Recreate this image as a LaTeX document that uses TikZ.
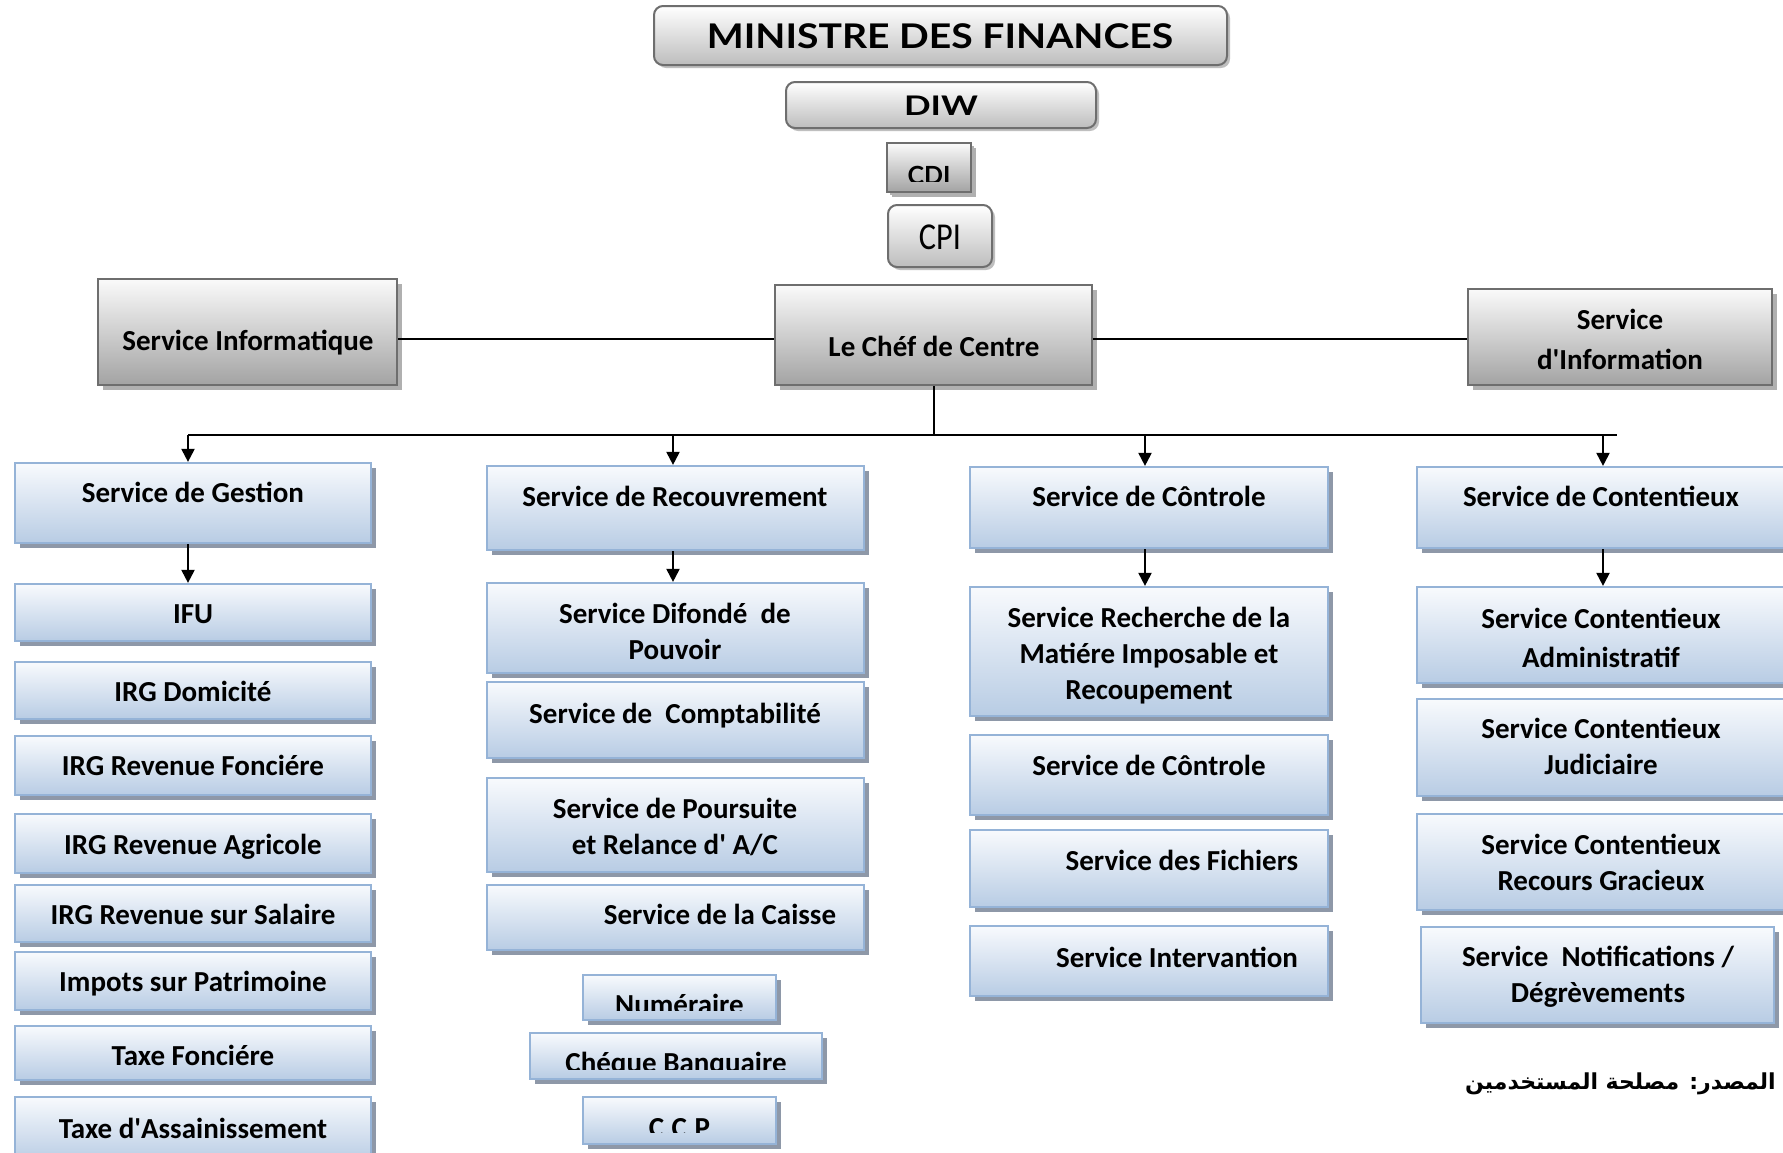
\documentclass[tikz,border=0pt]{standalone}
\usepackage{fontspec}
\setmainfont{Carlito}
\newfontfamily\titlefont{Lato}
\newfontfamily\arabicfont[Script=Arabic]{DejaVu Sans}
\TeXXeTstate=1
\usetikzlibrary{shadows,arrows.meta,calc}
\definecolor{bluebd}{HTML}{95B3D7}
\definecolor{bluetop}{HTML}{F8FAFD}
\definecolor{bluebot}{HTML}{B8CCE4}
\definecolor{bshadow}{HTML}{8E98A8}
\definecolor{graybd}{HTML}{6E6E6E}
\definecolor{graytop}{HTML}{FAFAFA}
\definecolor{graybot}{HTML}{A3A3A3}
\definecolor{graybotb}{HTML}{BDBDBD}
\definecolor{gshadow}{HTML}{B0B0B0}
\newcommand\tl[1]{\raisebox{0pt}[19pt][0pt]{#1}}
\newcommand\apo{\textquotesingle}
\newcommand\mybox[6]{%
  \pgfmathsetmacro\mbW{#5-#3}\pgfmathsetmacro\mbH{#6-#4}%
  \pgfmathsetmacro\mbX{(#3+#5)/2}\pgfmathsetmacro\mbY{(#4+#6)/2}%
  \node[#2,minimum width=\mbW pt,minimum height=\mbH pt] (#1) at (\mbX,\mbY) {};}
\begin{document}
\begin{tikzpicture}[x=1pt,y=-1pt,
  bbox/.style={draw=bluebd,line width=2.2pt,top color=bluetop,bottom color=bluebot,inner sep=0pt,
    drop shadow={shadow xshift=5pt,shadow yshift=-5pt,fill=bshadow,opacity=1}},
  gbox/.style={draw=graybd,line width=2.4pt,top color=graytop,bottom color=graybot,inner sep=0pt,
    drop shadow={shadow xshift=5pt,shadow yshift=-5pt,fill=gshadow,opacity=1}},
  tbox/.style={draw=graybd,line width=2pt,rounded corners=9pt,top color=white,bottom color=graybotb,inner sep=0pt,
    drop shadow={shadow xshift=3pt,shadow yshift=-3pt,fill=gshadow,opacity=0.8}},
  txt/.style={font=\fontsize{29}{36}\selectfont\bfseries,align=center,inner sep=0pt},
  ttl/.style={font=\titlefont\bfseries,inner sep=0pt},
  cliptxt/.style n args={4}{path picture={%
    \clip ([yshift=#1pt]path picture bounding box.south west) rectangle (path picture bounding box.north east);
    \node[#3,anchor=base] at ([yshift=#2pt]path picture bounding box.south) {#4};}},
  ln/.style={line width=2pt},
  arr/.style={line width=2pt,-{Triangle[length=13pt,width=13pt]}}]
\fill[white] (0,0) rectangle (1783,1152);
\useasboundingbox (0,0) rectangle (1783,1152);

% top hierarchy
\mybox{min}{tbox}{654}{6}{1227}{65}
\node[ttl,anchor=base,font=\titlefont\bfseries\fontsize{34}{40}\selectfont] (mint) at (940,48) {\scalebox{1.15}[1]{MINISTRE DES FINANCES}};
\mybox{diw}{tbox}{786}{82}{1096}{128}
\node[ttl,anchor=base,font=\titlefont\bfseries\fontsize{27}{32}\selectfont] (diwt) at (941,115) {\scalebox{1.3}[1]{DIW}};
\mybox{cdi}{gbox,rounded corners=0pt,line width=2.6pt,drop shadow={shadow xshift=3pt,shadow yshift=-3pt,fill=gshadow,opacity=1},
  cliptxt={11}{8}{ttl,font=\titlefont\bfseries\fontsize{25}{30}\selectfont}{CDI}}{887}{143}{971}{192}
\mybox{cpi}{tbox}{888}{205}{992}{267}
\node[anchor=base,inner sep=0pt,font=\fontsize{38}{44}\selectfont] (cpit) at (940,249) {\scalebox{0.85}[1]{CPI}};

% second level
\mybox{inf}{gbox}{98}{279}{397}{385}
\node[txt] (inft) at (248,341) {\tl{Service Informatique}};
\mybox{chef}{gbox}{775}{285}{1092}{385}
\node[txt] (cheft) at (934,347) {\tl{Le Chéf de Centre}};
\mybox{info}{gbox}{1468}{289}{1772}{385}
\node[txt] (infot) at (1620,340) {\tl{Service}\\[4pt]\tl{d\apo Information}};

\coordinate (hl) at (934,339);
\draw[ln] (inf.east |- hl) -- (chef.west |- hl);
\draw[ln] (chef.east |- hl) -- (info.west |- hl);

% bus
\coordinate (a1) at (188,435);
\coordinate (a2) at (673,435);
\coordinate (a3) at (1145,435);
\coordinate (a4) at (1603,435);
\coordinate (busR) at (1617,435);
\draw[ln] (chef.south) -- (chef.south |- a1);
\draw[ln] (a1) -- (busR);

% column 1
\mybox{g0}{bbox}{15}{463}{371}{543}
\node[txt] (g0t) at (193,493) {\tl{Service de Gestion}};
\mybox{g1}{bbox}{15}{584}{371}{641}
\node[txt] (g1t) at (193,614) {\tl{IFU}};
\mybox{g2}{bbox}{15}{662}{371}{719}
\node[txt] (g2t) at (193,692) {\tl{IRG Domicité}};
\mybox{g3}{bbox}{15}{736}{371}{795}
\node[txt] (g3t) at (193,766) {\tl{IRG Revenue Fonciére}};
\mybox{g4}{bbox}{15}{814}{371}{873}
\node[txt] (g4t) at (193,845) {\tl{IRG Revenue Agricole}};
\mybox{g5}{bbox}{15}{885}{371}{942}
\node[txt] (g5t) at (193,915) {\tl{IRG Revenue sur Salaire}};
\mybox{g6}{bbox}{15}{952}{371}{1010}
\node[txt] (g6t) at (193,982) {\tl{Impots sur Patrimoine}};
\mybox{g7}{bbox}{15}{1026}{371}{1080}
\node[txt] (g7t) at (193,1056) {\tl{Taxe Fonciére}};
\mybox{g8}{bbox}{15}{1097}{371}{1162}
\node[txt] (g8t) at (193,1129) {\tl{Taxe d\apo Assainissement}};

% column 2
\mybox{r0}{bbox}{487}{466}{864}{550}
\node[txt] (r0t) at (675,497) {\tl{Service de Recouvrement}};
\mybox{r1}{bbox}{487}{583}{864}{673}
\node[txt] (r1t) at (675,632) {\tl{Service Difondé\ \ de}\\\tl{Pouvoir}};
\mybox{r2}{bbox}{487}{682}{864}{758}
\node[txt] (r2t) at (675,714) {\tl{Service de\ \ Comptabilité}};
\mybox{r3}{bbox}{487}{778}{864}{872}
\node[txt] (r3t) at (675,827) {\tl{Service de Poursuite}\\\tl{et Relance d\apo\ A/C}};
\mybox{r4}{bbox}{487}{885}{864}{950}
\node[txt] (r4t) at (720,915) {\tl{Service de la Caisse}};
\mybox{r5}{bbox,cliptxt={10}{6}{txt}{Numéraire}}{583}{975}{776}{1020}
\mybox{r6}{bbox,cliptxt={10}{7}{txt}{Chéque Banquaire}}{530}{1033}{822}{1079}
\mybox{r7}{bbox,cliptxt={12}{7}{txt}{C.C.P}}{583}{1097}{776}{1144}

% column 3
\mybox{c0}{bbox}{970}{467}{1328}{548}
\node[txt] (c0t) at (1149,497) {\tl{Service de Côntrole}};
\mybox{c1}{bbox}{970}{587}{1328}{716}
\node[txt] (c1t) at (1149,654) {\tl{Service Recherche de la}\\\tl{Matiére Imposable et}\\\tl{Recoupement}};
\mybox{c2}{bbox}{970}{735}{1328}{815}
\node[txt] (c2t) at (1149,766) {\tl{Service de Côntrole}};
\mybox{c3}{bbox}{970}{830}{1328}{907}
\node[txt] (c3t) at (1182,861) {\tl{Service des Fichiers}};
\mybox{c4}{bbox}{970}{926}{1328}{996}
\node[txt] (c4t) at (1177,958) {\tl{Service Intervantion}};

% column 4
\mybox{t0}{bbox}{1417}{467}{1792}{548}
\node[txt] (t0t) at (1601,497) {\tl{Service de Contentieux}};
\mybox{t1}{bbox}{1417}{587}{1792}{683}
\node[txt] (t1t) at (1601,638) {\tl{Service Contentieux}\\[3pt]\tl{Administratif}};
\mybox{t2}{bbox}{1417}{699}{1792}{796}
\node[txt] (t2t) at (1601,747) {\tl{Service Contentieux}\\\tl{Judiciaire}};
\mybox{t3}{bbox}{1417}{814}{1792}{910}
\node[txt] (t3t) at (1601,863) {\tl{Service Contentieux}\\\tl{Recours Gracieux}};
\mybox{t4}{bbox}{1421}{927}{1774}{1023}
\node[txt] (t4t) at (1598,975) {\tl{Service\ \ Notifications /}\\\tl{Dégrèvements}};

% arrows
\draw[arr] (a1) -- (a1 |- g0.north);
\draw[arr] (a2) -- (a2 |- r0.north);
\draw[arr] (a3) -- (a3 |- c0.north);
\draw[arr] (a4) -- (a4 |- t0.north);
\draw[arr] (a1 |- g0.south) -- (a1 |- g1.north);
\draw[arr] (a2 |- r0.south) -- (a2 |- r1.north);
\draw[arr] (a3 |- c0.south) -- (a3 |- c1.north);
\draw[arr] (a4 |- t0.south) -- (a4 |- t1.north);

% source
\node[anchor=east,inner sep=0pt,font=\arabicfont\bfseries\fontsize{22}{28}\selectfont] (src) at (1776,1084) {\beginR المصدر: مصلحة المستخدمين\endR};
\end{tikzpicture}
\end{document}
